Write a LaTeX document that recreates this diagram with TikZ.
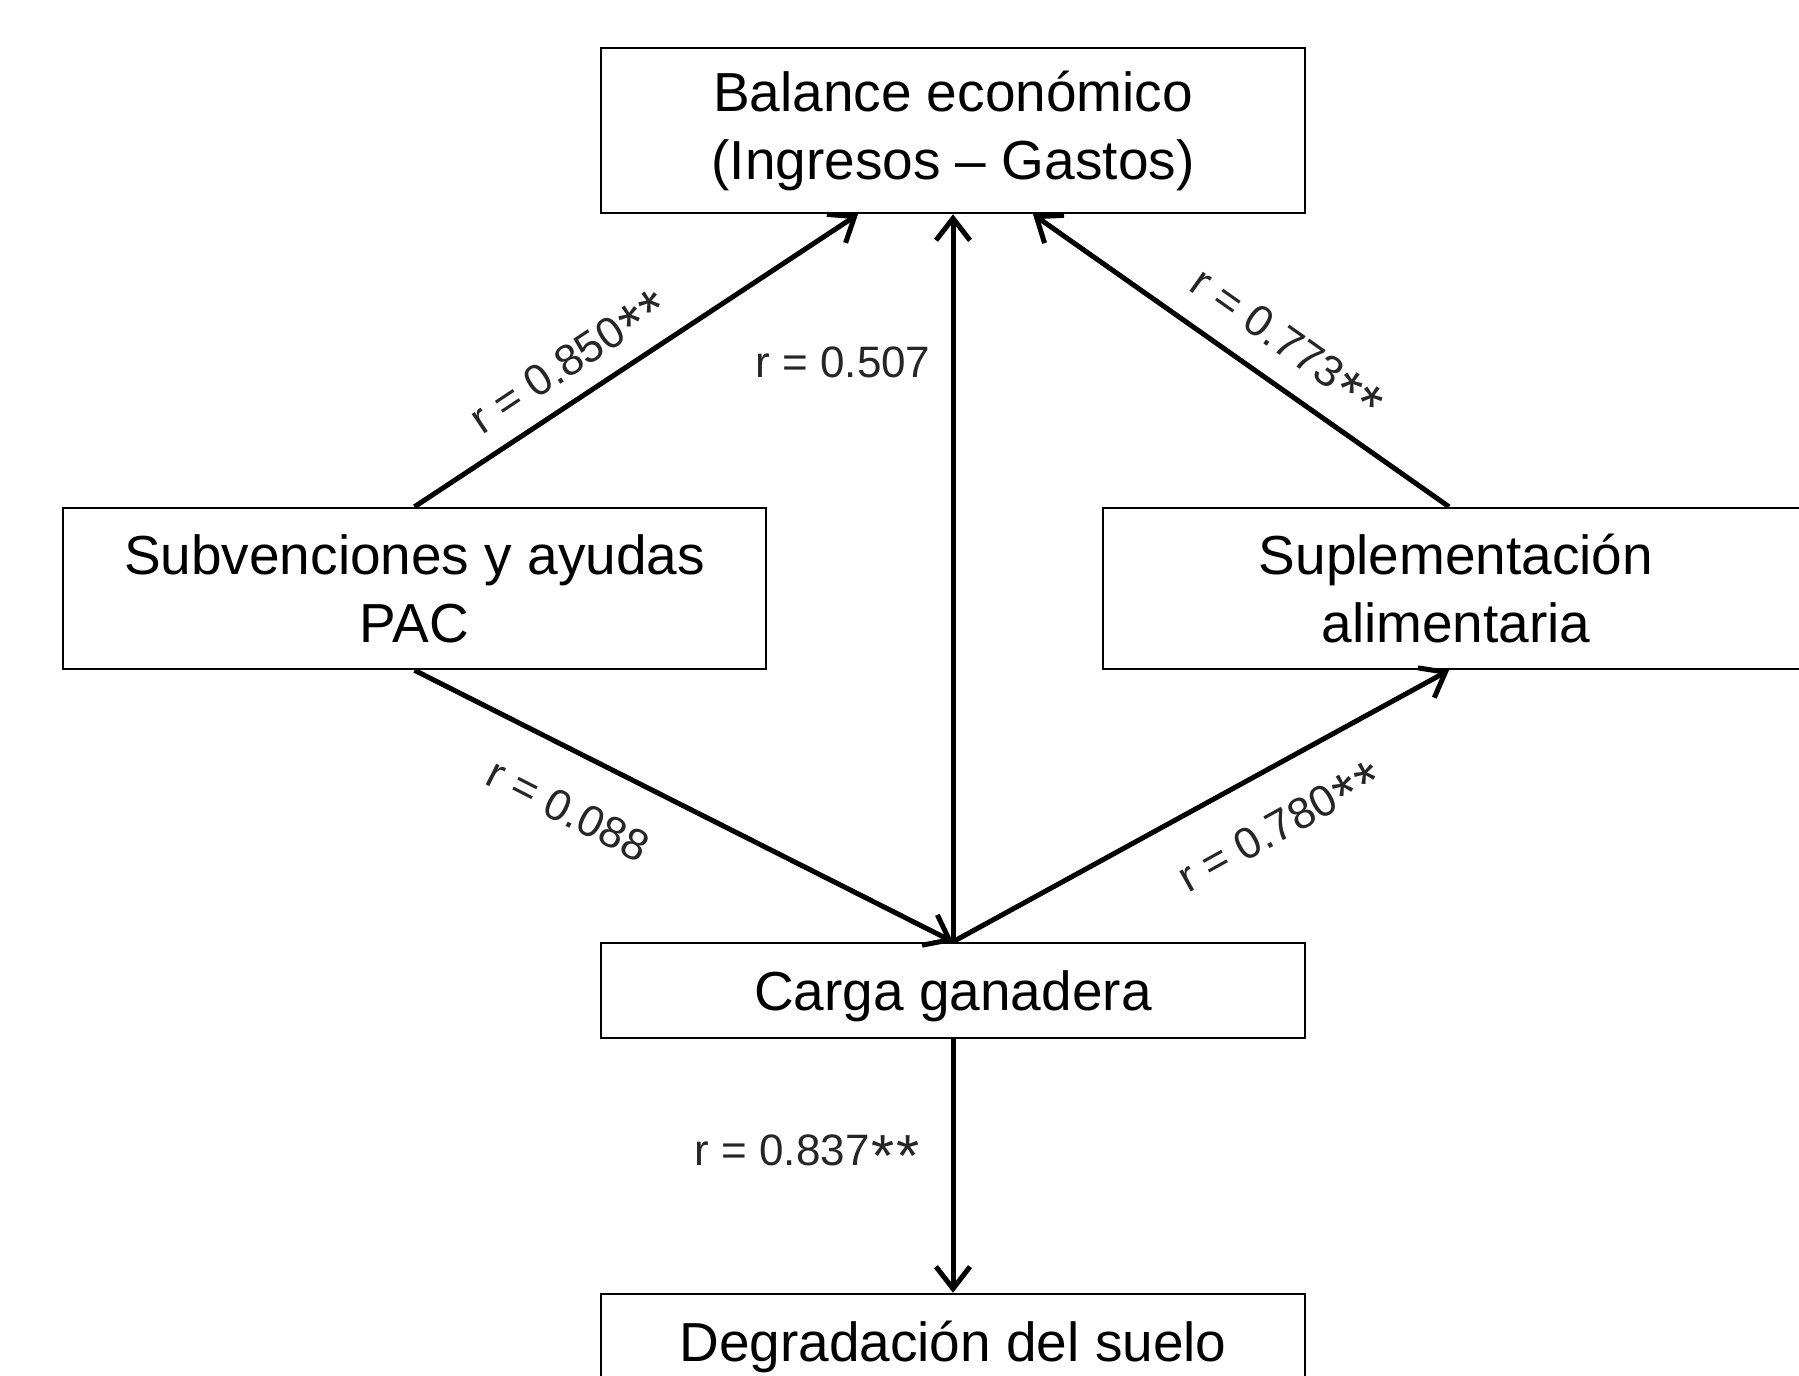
\documentclass[tikz,border=0pt]{standalone}
\usepackage{fontspec}
\usepackage{graphicx}
\setmainfont{Liberation Sans}
\usetikzlibrary{arrows.meta}
\newcommand\onestar{\raisebox{-0.25em}[0.7em][0pt]{\scalebox{1.35}{*}}}
\newcommand\twostars{\kern0.04em\onestar\kern0.04em\onestar}
\begin{document}
\begin{tikzpicture}[x=1pt,y=-1pt,
  box/.style={draw, line width=2.5pt, inner sep=0pt, align=center, font=\fontsize{55}{68}\selectfont},
  lab/.style={font=\fontsize{44}{50}\selectfont, inner sep=0pt, text=black!85},
  arr/.style={line width=5pt, -{Straight Barb[length=22pt,width=34pt,line width=5pt]}}]
\useasboundingbox (0,0) rectangle (1799,1376);
\fill[white] (0,0) rectangle (1799,1376);
\node[box, minimum width=704pt, minimum height=165pt] (bal) at (953,130.5) {Balance económico\\(Ingresos – Gastos)};
\node[box, minimum width=703pt, minimum height=161pt] (sub) at (414.5,588.5) {Subvenciones y ayudas\\PAC};
\node[box, minimum width=706pt, minimum height=161pt] (sup) at (1456,588.5) {Suplementación\\alimentaria};
\node[box, text depth=0pt, minimum width=704pt, minimum height=95pt] (car) at (953,990.5) {Carga ganadera};
\node[box, text depth=0pt, minimum width=704pt, minimum height=95pt] (deg) at (953,1341.5) {Degradación del suelo};
\draw[arr] (sub.north) -- ([xshift=-95pt]bal.south);
\draw[arr] (car.north) -- (bal.south);
\draw[arr] ([xshift=-7pt]sup.north) -- ([xshift=80pt]bal.south);
\draw[arr] (sub.south) -- (car.north);
\draw[arr] (car.north) -- ([xshift=-7pt]sup.south);
\draw[arr] (car.south) -- (deg.north);
\node[lab, rotate=33.6] (l1) at (568,361) {r = 0.850\twostars};
\node[lab] (l2) at (843,362) {r = 0.507};
\node[lab, rotate=-35.3] (l3) at (1288,342) {r = 0.773\twostars};
\node[lab, rotate=-27] (l4) at (568,810) {r = 0.088};
\node[lab, rotate=28.9] (l5) at (1279,826) {r = 0.780\twostars};
\node[lab] (l6) at (807,1150) {r = 0.837\twostars};
\end{tikzpicture}
\end{document}
